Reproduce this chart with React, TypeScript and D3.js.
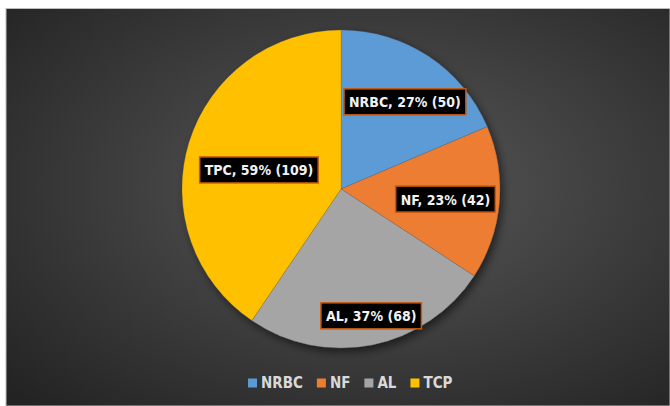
import * as d3 from "d3";
import { useEffect, useRef } from "react";

const categories = ["NRBC", "NF", "AL", "TCP"];
const values = [50, 42, 68, 109];
const labelTexts = ["NRBC, 27% (50)", "NF, 23% (42)", "AL, 37% (68)", "TPC, 59% (109)"];
const colors = ["#5b9bd5", "#ed7d31", "#a5a5a5", "#ffc000"];

// label placement: fraction of radius, angle shift (deg) from slice middle
const labelPlace = [
  { r: 0.68, da: 2.8 },
  { r: 0.66, da: 0.5 },
  { r: 0.82, da: -2 },
  { r: 0.53, da: -4 },
];

export default function App() {
  const ref = useRef<SVGSVGElement>(null);

  useEffect(() => {
    const W = 670, H = 406;
    const svg = d3.select(ref.current);
    svg.selectAll("*").remove();

    const defs = svg.append("defs");
    const grad = defs
      .append("radialGradient")
      .attr("id", "bg")
      .attr("cx", "55%")
      .attr("cy", "45%")
      .attr("r", "75%");
    grad.append("stop").attr("offset", "0%").attr("stop-color", "#595959");
    grad.append("stop").attr("offset", "100%").attr("stop-color", "#232323");

    const shadow = defs.append("filter").attr("id", "sh").attr("x", "-20%").attr("y", "-20%").attr("width", "140%").attr("height", "140%");
    shadow.append("feDropShadow").attr("dx", 3).attr("dy", 4).attr("stdDeviation", 4).attr("flood-color", "#000").attr("flood-opacity", 0.55);

    svg.append("rect").attr("width", W).attr("height", H).attr("fill", "#ffffff");
    svg
      .append("rect")
      .attr("x", 6)
      .attr("y", 8.5)
      .attr("width", W - 6)
      .attr("height", H - 8.5)
      .attr("fill", "url(#bg)")
      .attr("stroke", "#bdbdbd")
      .attr("stroke-width", 1);

    const cx = 341, cy = 189, R = 159;
    const g = svg.append("g").attr("transform", `translate(${cx},${cy})`);

    const pie = d3.pie<number>().sort(null).value((d) => d);
    const arcs = pie(values);
    const arc = d3.arc<d3.PieArcDatum<number>>().innerRadius(0).outerRadius(R);

    const slices = g.append("g").attr("filter", "url(#sh)");
    slices
      .selectAll("path")
      .data(arcs)
      .enter()
      .append("path")
      .attr("d", arc)
      .attr("fill", (_, i) => colors[i])
      .attr("stroke", "rgba(80,80,80,0.35)")
      .attr("stroke-width", 0.6);

    const font = "'DejaVu Sans Condensed', 'DejaVu Sans', sans-serif";

    arcs.forEach((a, i) => {
      const mid = (a.startAngle + a.endAngle) / 2 + (labelPlace[i].da * Math.PI) / 180;
      const rr = R * labelPlace[i].r;
      const x = Math.sin(mid) * rr;
      const y = -Math.cos(mid) * rr;
      const lg = g.append("g").attr("transform", `translate(${x},${y})`);
      const t = lg
        .append("text")
        .attr("text-anchor", "middle")
        .attr("dominant-baseline", "central")
        .attr("y", 0.5)
        .attr("fill", "#f2f2f2")
        .attr("font-family", font)
        .attr("font-weight", "bold")
        .attr("font-size", 14)
        .text(labelTexts[i]);
      const bb = (t.node() as SVGTextElement).getBBox();
      lg.insert("rect", "text")
        .attr("x", bb.x - 5)
        .attr("y", -13)
        .attr("width", bb.width + 10)
        .attr("height", 26)
        .attr("fill", "#000")
        .attr("stroke", "#c55a11")
        .attr("stroke-width", 1.5);
    });

    // legend
    const legend = svg.append("g").attr("transform", `translate(0,383)`);
    let lx = 248;
    categories.forEach((c, i) => {
      legend
        .append("rect")
        .attr("x", lx)
        .attr("y", -4.5)
        .attr("width", 9)
        .attr("height", 9)
        .attr("fill", colors[i]);
      const t = legend
        .append("text")
        .attr("x", lx + 13)
        .attr("y", 0)
        .attr("dominant-baseline", "central")
        .attr("fill", "#d9d9d9")
        .attr("font-family", font)
        .attr("font-weight", "bold")
        .attr("font-size", 15)
        .text(c);
      const w = (t.node() as SVGTextElement).getComputedTextLength();
      lx += 13 + w + 14;
    });
  }, []);

  return (
    <svg
      ref={ref}
      width={670}
      height={406}
      style={{ position: "absolute", left: 0, top: 0, display: "block" }}
    />
  );
}
